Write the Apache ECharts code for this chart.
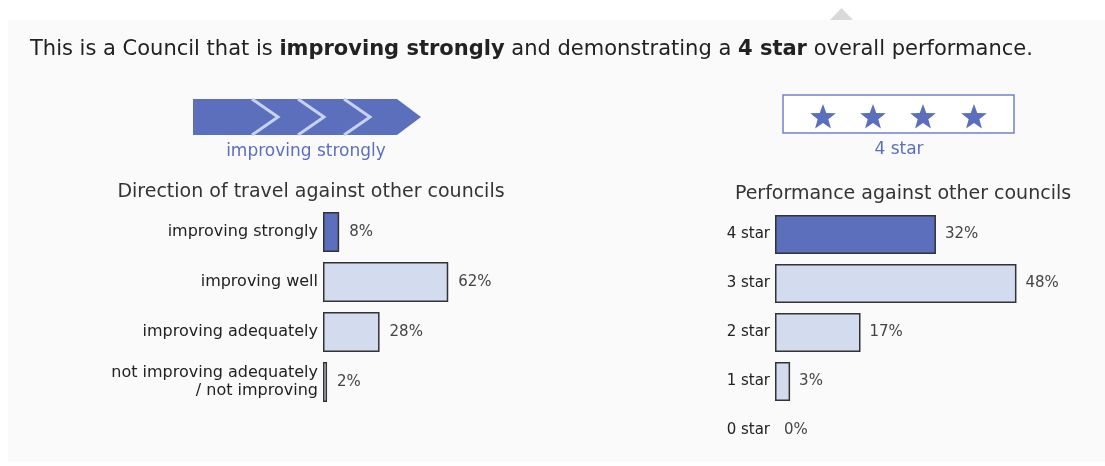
<!DOCTYPE html>
<html><head><meta charset="utf-8">
<script src="https://cdn.jsdelivr.net/npm/echarts@6/dist/echarts.min.js"></script>
<style>html,body{margin:0;padding:0;background:#fff;}#c{width:1105px;height:466px;}</style>
</head><body><div id="c"></div>
<script>
// Data
const travelCategories = ['improving strongly', 'improving well', 'improving adequately', 'not improving adequately\n/ not improving'];
const travelValues = [8, 62, 28, 2];
const travelHighlight = 0;
const starCategories = ['4 star', '3 star', '2 star', '1 star', '0 star'];
const starValues = [32, 48, 17, 3, 0];
const starHighlight = 0;

const DARK = '#5b6fbd', LIGHT = '#d3dbef', EDGE = '#333333';
const FONT = 'DejaVu Sans, Verdana';

function starPts(cx, cy, R, r) {
  const pts = [];
  for (let i = 0; i < 10; i++) {
    const a = -Math.PI / 2 + i * Math.PI / 5;
    const rad = i % 2 === 0 ? R : r;
    pts.push([cx + rad * Math.cos(a), cy + rad * Math.sin(a)]);
  }
  return pts;
}

const chart = echarts.init(document.getElementById('c'));
const labelStyle = { color: '#444', fontFamily: FONT, fontSize: 15 };

const graphics = [
  { type: 'rect', shape: { x: 8, y: 20, width: 1097, height: 442 }, style: { fill: '#fafafa' }, z: -10 },
  { type: 'polygon', shape: { points: [[830, 20], [841.5, 8], [853, 20]] }, style: { fill: '#d9d9d9' } },
  { type: 'text', x: 30, y: 50, style: {
      rich: {
        n: { fontFamily: FONT, fontSize: 21, fill: '#222' },
        b: { fontFamily: FONT, fontSize: 21, fontWeight: 'bold', fill: '#222' }
      },
      verticalAlign: 'middle',
      text: '{n|This is a Council that is }{b|improving strongly}{n| and demonstrating a }{b|4 star}{n| overall performance.}'
  } },
  // arrow
  { type: 'polygon', shape: { points: [[193, 99], [397, 99], [421, 117], [397, 135], [193, 135]] }, style: { fill: DARK } },
  { type: 'polyline', shape: { points: [[252, 99], [278, 117], [252, 135]] }, style: { stroke: '#c9d1f0', lineWidth: 3, fill: null } },
  { type: 'polyline', shape: { points: [[298, 99], [324, 117], [298, 135]] }, style: { stroke: '#c9d1f0', lineWidth: 3, fill: null } },
  { type: 'polyline', shape: { points: [[344, 99], [370, 117], [344, 135]] }, style: { stroke: '#c9d1f0', lineWidth: 3, fill: null } },
  { type: 'text', x: 306, y: 152, style: { text: 'improving strongly', fontFamily: FONT, fontSize: 17, fill: '#5c6fbf', align: 'center', verticalAlign: 'middle' } },
  // star box
  { type: 'rect', shape: { x: 783, y: 95, width: 231, height: 38 }, style: { fill: '#fff', stroke: '#7382c9', lineWidth: 1.5 } },
  { type: 'polygon', shape: { points: starPts(823, 117.5, 13.5, 5.6) }, style: { fill: DARK } },
  { type: 'polygon', shape: { points: starPts(873, 117.5, 13.5, 5.6) }, style: { fill: DARK } },
  { type: 'polygon', shape: { points: starPts(923, 117.5, 13.5, 5.6) }, style: { fill: DARK } },
  { type: 'polygon', shape: { points: starPts(974, 117.5, 13.5, 5.6) }, style: { fill: DARK } },
  { type: 'text', x: 899, y: 150, style: { text: '4 star', fontFamily: FONT, fontSize: 17, fill: '#5c6fbf', align: 'center', verticalAlign: 'middle' } }
];

chart.setOption({
  animation: false,
  title: [
    { text: 'Direction of travel against other councils', left: 306, top: 178, textAlign: 'center',
      textStyle: { fontFamily: FONT, fontSize: 19, fontWeight: 'normal', color: '#333' } },
    { text: 'Performance against other councils', left: 898, top: 180, textAlign: 'center',
      textStyle: { fontFamily: FONT, fontSize: 19, fontWeight: 'normal', color: '#333' } }
  ],
  graphic: graphics,
  grid: [
    { left: 323, top: 207, width: 141.4, height: 200 },
    { left: 775, top: 210, width: 251.5, height: 245 }
  ],
  xAxis: [
    { gridIndex: 0, type: 'value', min: 0, max: 70, show: false },
    { gridIndex: 1, type: 'value', min: 0, max: 50, show: false }
  ],
  yAxis: [
    { gridIndex: 0, type: 'category', inverse: true, data: travelCategories,
      axisLine: { show: false }, axisTick: { show: false }, splitLine: { show: false },
      axisLabel: { margin: 5, color: '#222', fontFamily: FONT, fontSize: 16, lineHeight: 18, align: 'right' } },
    { gridIndex: 1, type: 'category', inverse: true, data: starCategories,
      axisLine: { show: false }, axisTick: { show: false }, splitLine: { show: false },
      axisLabel: { margin: 5, color: '#222', fontFamily: FONT, fontSize: 15 } }
  ],
  series: [
    { type: 'bar', xAxisIndex: 0, yAxisIndex: 0, barCategoryGap: '20%',
      data: travelValues.map((v, i) => ({ value: v, itemStyle: { color: i === travelHighlight ? DARK : LIGHT } })),
      itemStyle: { borderColor: EDGE, borderWidth: 1.5 },
      label: { show: true, position: 'right', distance: 10, formatter: '{c}%', ...labelStyle } },
    { type: 'bar', xAxisIndex: 1, yAxisIndex: 1, barCategoryGap: '20%',
      data: starValues.map((v, i) => ({ value: v, itemStyle: { color: i === starHighlight ? DARK : LIGHT, borderWidth: v === 0 ? 0 : 1.5 } })),
      itemStyle: { borderColor: EDGE, borderWidth: 1.5 },
      label: { show: true, position: 'right', distance: 9, formatter: '{c}%', ...labelStyle } }
  ]
});
</script></body></html>
